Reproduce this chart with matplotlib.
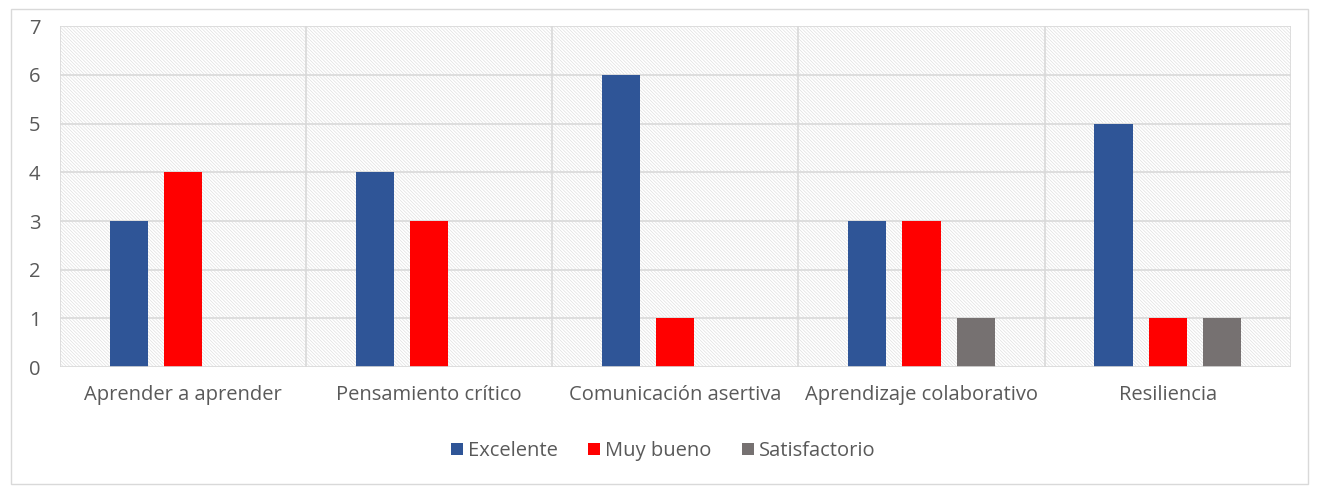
import matplotlib.pyplot as plt
from matplotlib.patches import Rectangle
import numpy as np

plt.rcParams['font.family'] = ['Open Sans', 'DejaVu Sans']
plt.rcParams['hatch.linewidth'] = 0.5

categorias = ['Aprender a aprender', 'Pensamiento crítico', 'Comunicación asertiva',
              'Aprendizaje colaborativo', 'Resiliencia']
excelente = [3, 4, 6, 3, 5]
muy_bueno = [4, 3, 1, 3, 1]
satisfactorio = [0, 0, 0, 1, 1]

colores = ['#2F5597', '#FF0000', '#767171']
series = [('Excelente', excelente), ('Muy bueno', muy_bueno), ('Satisfactorio', satisfactorio)]

fig = plt.figure(figsize=(13.19, 4.87), dpi=100)
# marco exterior gris claro
fig.patches.append(Rectangle((0.008, 0.006), 0.984, 0.975, transform=fig.transFigure,
                             fill=False, edgecolor='#D9D9D9', linewidth=1))
ax = fig.add_axes([0.0455, 0.246, 0.933, 0.7])

x = np.arange(len(categorias))
ax.set_xlim(-0.5, len(categorias) - 0.5)
ax.set_ylim(0, 7)

# fondo rayado
ax.add_patch(Rectangle((-0.5, 0), len(categorias), 7, facecolor='white',
                       edgecolor='#E0E0E0', hatch='\\' * 10, linewidth=0, zorder=0))

for i, (nombre, vals) in enumerate(series):
    ax.bar(x + (i - 1) * 0.22, vals, width=0.155, color=colores[i], label=nombre, zorder=3)

for yv in range(1, 8):
    ax.axhline(yv, color='#D9D9D9', linewidth=1.2, zorder=1)
for xv in np.arange(-0.5, len(categorias), 1):
    ax.axvline(xv, color='#D9D9D9', linewidth=1.2, zorder=1)
ax.axhline(0, color='#D9D9D9', linewidth=1.2, zorder=4)

for s in ax.spines.values():
    s.set_visible(False)

ax.set_xticks(x)
ax.set_xticklabels(categorias, fontsize=14.5, color='#595959')
ax.set_yticks(range(0, 8))
ax.set_yticklabels([str(v) for v in range(0, 8)], fontsize=14.5, color='#595959')
ax.tick_params(axis='x', length=0, pad=13)
ax.tick_params(axis='y', length=0, pad=14)

ax.legend(loc='center', bbox_to_anchor=(0.49, -0.246), ncol=3, frameon=False,
          fontsize=14.5, labelcolor='#595959', handlelength=0.6, handleheight=0.6,
          handletextpad=0.25, columnspacing=1.5)

fig.savefig('out.png', dpi=100)
